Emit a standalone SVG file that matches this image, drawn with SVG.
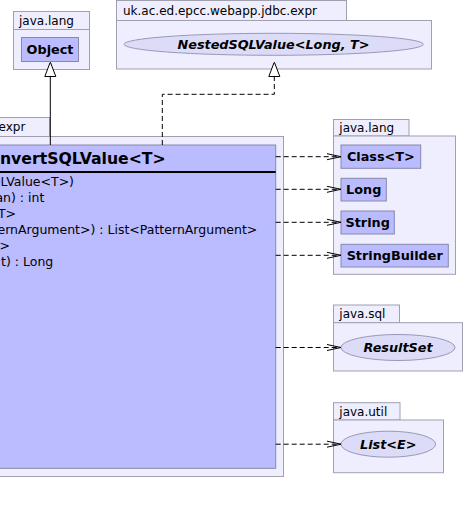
<svg xmlns="http://www.w3.org/2000/svg" width="465" height="514" viewBox="0 0 465 514">
<defs>
<marker id="vee" markerWidth="16" markerHeight="10" refX="14" refY="4" orient="auto" markerUnits="userSpaceOnUse">
<path d="M0,1 L14,4 L0,7" fill="none" stroke="#000" stroke-width="1"/>
</marker>
<marker id="tri" markerWidth="14" markerHeight="16" refX="15" refY="6" orient="auto" markerUnits="userSpaceOnUse">
<path d="M0.5,0.5 L15,6 L0.5,11.5 Z" fill="#fff" stroke="#000" stroke-width="1"/>
</marker>
<style>
.pkg{fill:#eeeeff;stroke:#a0a0b0;stroke-width:1}
.cls{fill:#bbbbff;stroke:#8888aa;stroke-width:1}
.ifc{fill:#dcdcf8;stroke:#9999b5;stroke-width:1}
.pl{font-family:"DejaVu Sans",sans-serif;font-size:12px;fill:#000}
.cn{font-family:"DejaVu Sans",sans-serif;font-size:12.8px;font-weight:bold;fill:#000}
.in{font-family:"DejaVu Sans",sans-serif;font-size:12.8px;font-weight:bold;font-style:italic;fill:#000}
.mb{font-family:"DejaVu Sans",sans-serif;font-size:12.5px;fill:#000}
.dep{fill:none;stroke:#000;stroke-width:1;stroke-dasharray:5,3}
</style>
</defs>
<rect width="465" height="514" fill="#fff"/>

<g id="pkg-java-lang-1">
<rect class="pkg" x="13.5" y="11.5" width="76" height="18"/>
<rect class="pkg" x="13.5" y="29.5" width="76" height="40"/>
<text class="pl" x="19" y="25">java.lang</text>
</g>
<g id="node-Object">
<rect class="cls" x="21.5" y="37.5" width="57" height="24"/>
<text class="cn" x="50" y="54" text-anchor="middle">Object</text>
</g>

<g id="pkg-expr-top">
<rect class="pkg" x="116.5" y="0.5" width="230" height="20"/>
<rect class="pkg" x="116.5" y="20.5" width="315" height="48.5"/>
<text class="pl" x="123" y="14.5">uk.ac.ed.epcc.webapp.jdbc.expr</text>
</g>
<g id="node-NestedSQLValue">
<ellipse class="ifc" cx="273.7" cy="44.3" rx="149.7" ry="11"/>
<text class="in" x="273.5" y="49" text-anchor="middle">NestedSQLValue&lt;Long, T&gt;</text>
</g>

<g id="pkg-expr-main">
<rect class="pkg" x="-10" y="117.5" width="59.5" height="19"/>
<rect class="pkg" x="-10" y="136.5" width="293.5" height="340"/>
<text class="pl" x="25.3" y="131" text-anchor="end">expr</text>
</g>
<g id="node-ConvertSQLValue">
<rect class="cls" x="-10" y="145" width="285.7" height="323.3"/>
<line x1="-10" y1="172" x2="275.7" y2="172" stroke="#000" stroke-width="2"/>
<text x="165.7" y="163.5" text-anchor="end" font-family="DejaVu Sans, sans-serif" font-size="15.7" font-weight="bold">nvertSQLValue&lt;T&gt;</text>
<text class="mb" x="74" y="186" text-anchor="end">QLValue&lt;T&gt;)</text>
<text class="mb" x="44.3" y="202" text-anchor="end">an) : int</text>
<text class="mb" x="16" y="218" text-anchor="end">T&gt;</text>
<text class="mb" x="257.3" y="234" text-anchor="end">ernArgument&gt;) : List&lt;PatternArgument&gt;</text>
<text class="mb" x="10" y="250" text-anchor="end">&gt;</text>
<text class="mb" x="53.3" y="266" text-anchor="end">t) : Long</text>
</g>

<g id="pkg-java-lang-2">
<rect class="pkg" x="333.5" y="119.5" width="75.5" height="16.5"/>
<rect class="pkg" x="333.5" y="136" width="122" height="138.3"/>
<text class="pl" x="339.3" y="132.3">java.lang</text>
</g>
<g id="node-Class">
<rect class="cls" x="341" y="145" width="79.7" height="23.3"/>
<text class="cn" x="380.8" y="161" text-anchor="middle">Class&lt;T&gt;</text>
</g>
<g id="node-Long">
<rect class="cls" x="341" y="178.3" width="45.3" height="22.7"/>
<text class="cn" x="363.7" y="194.2" text-anchor="middle">Long</text>
</g>
<g id="node-String">
<rect class="cls" x="341" y="211" width="53.3" height="23"/>
<text class="cn" x="367.7" y="227" text-anchor="middle">String</text>
</g>
<g id="node-StringBuilder">
<rect class="cls" x="341" y="244.3" width="107.3" height="22.7"/>
<text class="cn" x="394.7" y="260.2" text-anchor="middle">StringBuilder</text>
</g>

<g id="pkg-java-sql">
<rect class="pkg" x="333.5" y="305" width="66" height="17.7"/>
<rect class="pkg" x="333.5" y="322.7" width="129" height="48.3"/>
<text class="pl" x="339.3" y="318.3">java.sql</text>
</g>
<g id="node-ResultSet">
<ellipse class="ifc" cx="398" cy="347.5" rx="57" ry="13"/>
<text class="in" x="398" y="352" text-anchor="middle">ResultSet</text>
</g>

<g id="pkg-java-util">
<rect class="pkg" x="333.5" y="402.7" width="66.5" height="17.3"/>
<rect class="pkg" x="333.5" y="420" width="110" height="52.7"/>
<text class="pl" x="339.3" y="416">java.util</text>
</g>
<g id="node-List">
<ellipse class="ifc" cx="388.3" cy="444.2" rx="47.3" ry="13"/>
<text class="in" x="388.3" y="448.8" text-anchor="middle">List&lt;E&gt;</text>
</g>

<g id="connectors">
<path d="M50.3,145 V62" fill="none" stroke="#000" stroke-width="1" marker-end="url(#tri)"/>
<path class="dep" d="M162.3,145 V94.3 H274.3 V62" marker-end="url(#tri)"/>
<path class="dep" d="M275.7,156.7 H341" marker-end="url(#vee)"/>
<path class="dep" d="M275.7,189.3 H341" marker-end="url(#vee)"/>
<path class="dep" d="M275.7,222.3 H341" marker-end="url(#vee)"/>
<path class="dep" d="M275.7,255.3 H341" marker-end="url(#vee)"/>
<path class="dep" d="M275.7,347.5 H341" marker-end="url(#vee)"/>
<path class="dep" d="M275.7,444.2 H341" marker-end="url(#vee)"/>
</g>
</svg>
